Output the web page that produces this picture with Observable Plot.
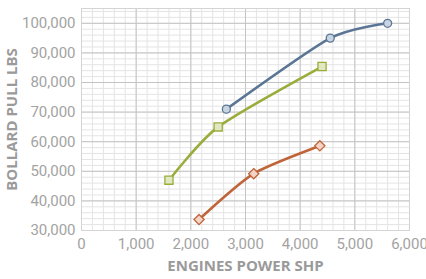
<!DOCTYPE html>
<html><head><meta charset="utf-8">
<script src="https://cdn.jsdelivr.net/npm/d3@7"></script>
<script src="https://cdn.jsdelivr.net/npm/@observablehq/plot@0.6"></script>
<style>
body{margin:0;background:#fff;}
#chart svg{display:block;}
</style>
</head><body><div id="chart"></div>
<script>
const seriesNames = ["A", "B", "C"];
const blueX = [2650, 4550, 5600];
const blueY = [71000, 95000, 100000];
const greenX = [1600, 2500, 4400];
const greenY = [47000, 65000, 85400];
const orangeX = [2150, 3150, 4360];
const orangeY = [33700, 49200, 58600];
const xTicks = [0, 1000, 2000, 3000, 4000, 5000, 6000];
const yTicks = [30000, 40000, 50000, 60000, 70000, 80000, 90000, 100000];
const xLabel = "ENGINES POWER SHP";
const yLabel = "BOLLARD PULL LBS";

const styles = {
  A: {stroke: "#5b7594", fill: "#c8d4e2", symbol: "circle", r: 4},
  B: {stroke: "#9aad3b", fill: "#e0e8c2", symbol: "square", r: 4.6},
  C: {stroke: "#c0643a", fill: "#f3d4c6", symbol: "diamond2", r: 4.6}
};
const sets = {A: [blueX, blueY], B: [greenX, greenY], C: [orangeX, orangeY]};

const marks = [
  Plot.gridX(d3.range(0, 6001, 200), {stroke: "#e4e4e4", strokeOpacity: 1, strokeWidth: 1}),
  Plot.gridY(d3.range(30000, 105001, 2000), {stroke: "#e4e4e4", strokeOpacity: 1, strokeWidth: 1}),
  Plot.gridX(xTicks, {stroke: "#c4c4c4", strokeOpacity: 1, strokeWidth: 1}),
  Plot.gridY(yTicks, {stroke: "#c4c4c4", strokeOpacity: 1, strokeWidth: 1}),
  Plot.frame({stroke: "#d4d4d4"})
];
for (const name of seriesNames) {
  const [xs, ys] = sets[name];
  const data = xs.map((x, i) => ({x, y: ys[i]}));
  const s = styles[name];
  marks.push(Plot.line(data, {x: "x", y: "y", stroke: s.stroke, strokeWidth: 2.6, curve: "cardinal", tension: 0.3}));
  marks.push(Plot.dot(data, {x: "x", y: "y", symbol: () => s.symbol, r: s.r, fill: s.fill, stroke: s.stroke, strokeWidth: 1.3}));
}
marks.push(
  Plot.axisX(xTicks, {tickSize: 0, tickPadding: 8, tickFormat: d3.format(","), fontSize: 15, fill: "#a3a3a3", label: null}),
  Plot.axisY(yTicks, {tickSize: 0, tickPadding: 6, tickFormat: d3.format(","), fontSize: 15, fill: "#a3a3a3", label: null}),
  Plot.text([xLabel], {text: d => d, frameAnchor: "bottom", dy: 40, fontSize: 15, fontWeight: "bold", fill: "#9a9a9a", fontFamily: "'Open Sans', sans-serif"}),
  Plot.text([yLabel], {text: d => d, frameAnchor: "left", textAnchor: "middle", dx: -69, rotate: -90, fontSize: 15, fontWeight: "bold", fill: "#9a9a9a", fontFamily: "'Open Sans', sans-serif"})
);

const chart = Plot.plot({
  width: 426, height: 279,
  marginLeft: 81, marginRight: 17, marginTop: 8, marginBottom: 49,
  style: {fontFamily: "Roboto, sans-serif", background: "#fff"},
  x: {domain: [0, 6000]},
  y: {domain: [30000, 105000]},
  marks
});
document.getElementById("chart").appendChild(chart);
</script>
</body></html>
